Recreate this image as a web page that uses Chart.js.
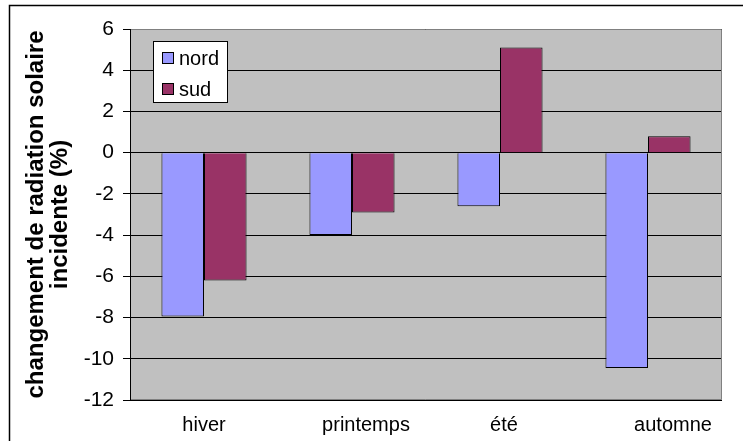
<!DOCTYPE html>
<html>
<head>
<meta charset="utf-8">
<script src="https://cdn.jsdelivr.net/npm/chart.js@4/dist/chart.umd.min.js"></script>
<style>
  html, body { margin: 0; padding: 0; background: #fff; }
  #wrap { width: 743px; height: 441px; position: relative; }
</style>
</head>
<body>
<div id="wrap"><canvas id="chart" width="743" height="441"></canvas></div>
<script>
// data
const seasons = ['hiver', 'printemps', 'été', 'automne'];
const nordValues = [-7.95, -4.0, -2.6, -10.45];
const sudValues = [-6.2, -2.9, 5.1, 0.8];
const yTicks = [6, 4, 2, 0, -2, -4, -6, -8, -10, -12];

const FONT = '"Liberation Sans", Arial, sans-serif';
// the original's category labels sit a bit right of the bar groups
const labelNudge = [0, 14, 4, 25];

// white page, outer frame, gray plot border, legend box and category labels
const framePlugin = {
    id: 'frame',
    beforeDraw(chart) {
        const ctx = chart.ctx;
        ctx.save();
        ctx.fillStyle = '#fff';
        ctx.fillRect(0, 0, chart.width, chart.height);
        ctx.strokeStyle = '#000';
        ctx.lineWidth = 1.5;
        ctx.beginPath();
        ctx.moveTo(9.5, chart.height);
        ctx.lineTo(9.5, 5.5);
        ctx.lineTo(chart.width, 5.5);
        ctx.stroke();
        const a = chart.chartArea;
        ctx.fillStyle = '#c0c0c0';
        ctx.fillRect(a.left, a.top, a.right - a.left, a.bottom - a.top);
        ctx.restore();
    },
    afterDraw(chart) {
        const ctx = chart.ctx;
        const a = chart.chartArea;
        ctx.save();
        ctx.strokeStyle = '#808080';
        ctx.lineWidth = 1;
        ctx.beginPath();
        ctx.moveTo(a.left, a.top + 0.5);
        ctx.lineTo(a.right - 0.5, a.top + 0.5);
        ctx.lineTo(a.right - 0.5, a.bottom - 0.5);
        ctx.lineTo(a.left, a.bottom - 0.5);
        ctx.stroke();
        ctx.strokeStyle = '#000';
        ctx.beginPath();
        ctx.moveTo(a.left + 0.5, a.top);
        ctx.lineTo(a.left + 0.5, a.bottom);
        ctx.stroke();

        // category labels
        const xs = chart.scales.x;
        ctx.font = '20px ' + FONT;
        ctx.fillStyle = '#000';
        ctx.textAlign = 'center';
        ctx.textBaseline = 'middle';
        chart.data.labels.forEach((lab, i) => {
            ctx.fillText(lab, xs.getPixelForValue(i) + labelNudge[i], a.bottom + 25);
        });

        // legend
        const lx = 153, ly = 41, lw = 74, lh = 61;
        ctx.fillStyle = '#fff';
        ctx.fillRect(lx, ly, lw, lh);
        ctx.strokeStyle = '#000';
        ctx.strokeRect(lx + 0.5, ly + 0.5, lw, lh);
        ctx.textAlign = 'left';
        chart.data.datasets.forEach((ds, i) => {
            const y = 52 + i * 31;
            ctx.fillStyle = ds.backgroundColor;
            ctx.fillRect(162, y, 12, 12);
            ctx.strokeStyle = '#000';
            ctx.strokeRect(162.5, y + 0.5, 11, 11);
            ctx.fillStyle = '#000';
            ctx.fillText(ds.label, 179, y + 7);
        });
        ctx.restore();
    }
};

new Chart(document.getElementById('chart'), {
    type: 'bar',
    data: {
        labels: seasons,
        datasets: [
            { label: 'nord', data: nordValues, backgroundColor: '#9999ff', borderColor: '#000', borderWidth: 1 },
            { label: 'sud', data: sudValues, backgroundColor: '#993366', borderColor: '#000', borderWidth: 1 }
        ]
    },
    options: {
        responsive: false,
        animation: false,
        layout: { padding: { top: 29, right: 21, left: 0, bottom: 0 } },
        plugins: { legend: { display: false }, tooltip: { enabled: false } },
        datasets: { bar: { categoryPercentage: 0.575, barPercentage: 1 } },
        scales: {
            x: {
                grid: { display: false },
                border: { display: false },
                ticks: { display: false },
                afterFit(scale) { scale.height = 41; }
            },
            y: {
                min: -12,
                max: 6,
                afterBuildTicks(scale) { scale.ticks = yTicks.map(v => ({ value: v })); },
                grid: { color: '#000', tickLength: 7 },
                border: { display: false },
                ticks: { color: '#000', font: { family: FONT, size: 21 }, padding: 9 },
                title: {
                    display: true,
                    text: ['changement de radiation solaire', 'incidente (%)'],
                    color: '#000',
                    font: { family: FONT, size: 24, weight: 'bold', lineHeight: 1.0 },
                    padding: { top: 24, bottom: 0 }
                },
                afterFit(scale) { scale.width = 130; }
            }
        }
    },
    plugins: [framePlugin]
});
</script>
</body>
</html>
